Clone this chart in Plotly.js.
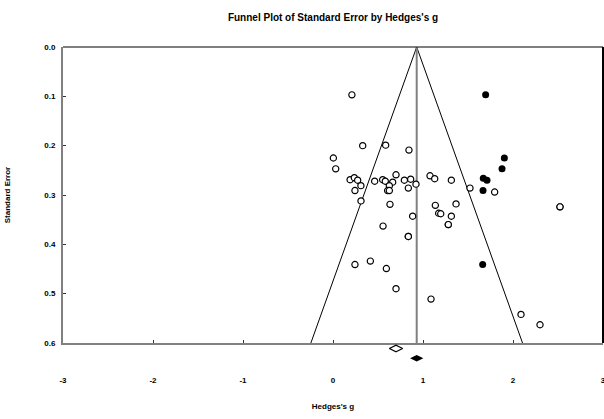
<!DOCTYPE html>
<html><head><meta charset="utf-8">
<script src="https://cdn.plot.ly/plotly-3.0.1.min.js"></script>
<style>html,body{margin:0;padding:0;background:#fff;overflow:hidden}</style>
</head><body><div id="chart" style="width:604px;height:419px"></div>
<script>
// Observed studies: Hedges's g and standard error
const observedG = [0.21, 0.33, 0.585, 0.004, 0.03, 0.19, 0.237, 0.274, 0.31, 0.244,
  0.463, 0.552, 0.581, 0.70, 0.663, 0.626, 0.607, 0.626, 0.311, 0.633,
  0.556, 0.844, 0.793, 0.863, 0.922, 0.837, 1.078, 1.13, 1.315, 1.522,
  1.796, 2.522, 2.522, 1.137, 1.367, 1.174, 1.197, 0.885, 1.315, 1.281,
  1.281, 0.837, 0.837, 0.244, 0.415, 0.593, 0.70, 1.089, 2.089, 2.30];
const observedSE = [0.097, 0.200, 0.199, 0.225, 0.247, 0.269, 0.265, 0.270, 0.281, 0.291,
  0.272, 0.269, 0.272, 0.259, 0.274, 0.281, 0.291, 0.291, 0.312, 0.319,
  0.363, 0.209, 0.270, 0.268, 0.278, 0.286, 0.261, 0.267, 0.270, 0.286,
  0.294, 0.324, 0.324, 0.321, 0.318, 0.337, 0.338, 0.343, 0.343, 0.360,
  0.360, 0.384, 0.384, 0.441, 0.434, 0.449, 0.490, 0.511, 0.542, 0.563];
// Imputed studies (trim and fill)
const imputedG = [1.696, 1.904, 1.878, 1.670, 1.711, 1.667, 1.663];
const imputedSE = [0.097, 0.225, 0.247, 0.266, 0.270, 0.291, 0.441];
// Funnel (95% limits) and combined effect line
const funnelG = [-0.246, 0.93, 2.106];
const funnelSE = [0.6, 0.0, 0.6];
const meanLineG = [0.93, 0.93];
const meanLineSE = [0.0, 0.6];
// Summary diamonds (observed and adjusted combined effect)
const observedSummaryG = [0.70];
const observedSummarySE = [0.611];
const adjustedSummaryG = [0.93];
const adjustedSummarySE = [0.631];
// Ticks
const xTicks = [-3, -2, -1, 0, 1, 2, 3];
const yTicks = [0.0, 0.1, 0.2, 0.3, 0.4, 0.5, 0.6];

const FONT = 'Liberation Sans Narrow, Liberation Sans, Arial, sans-serif';

// Geometry: main plot from y=47 to y=343 px; a strip below holds the diamonds
const H = 419, TOP = 47, AXIS = 343, BOTTOM = 365;
const splitFrac = (BOTTOM - AXIS) / (BOTTOM - TOP);
const pxPerSE = (AXIS - TOP) / 0.6;
const stripMax = 0.6 + (BOTTOM - AXIS) / pxPerSE;

const traces = [
  {x: funnelG, y: funnelSE, type: 'scatter', mode: 'lines',
   line: {color: '#000', width: 1}, hoverinfo: 'skip'},
  {x: meanLineG, y: meanLineSE, type: 'scatter', mode: 'lines',
   line: {color: '#808080', width: 2}, hoverinfo: 'skip'},
  {x: observedG, y: observedSE, type: 'scatter', mode: 'markers',
   marker: {symbol: 'circle', size: 6.2, color: '#fff', line: {color: '#000', width: 1.2}}},
  {x: imputedG, y: imputedSE, type: 'scatter', mode: 'markers',
   marker: {symbol: 'circle', size: 7, color: '#000', line: {color: '#000', width: 0}}},
  {x: observedSummaryG, y: observedSummarySE, type: 'scatter', mode: 'markers', yaxis: 'y2', cliponaxis: false,
   marker: {symbol: 'diamond-wide', size: 9.5, color: '#fff', line: {color: '#000', width: 1.2}}},
  {x: adjustedSummaryG, y: adjustedSummarySE, type: 'scatter', mode: 'markers', yaxis: 'y2', cliponaxis: false,
   marker: {symbol: 'diamond-wide', size: 9.5, color: '#000', line: {color: '#000', width: 0}}}
];

const layout = {
  width: 604, height: H,
  margin: {l: 63, r: 1, t: TOP, b: H - BOTTOM},
  paper_bgcolor: '#fff', plot_bgcolor: 'rgba(0,0,0,0)',
  showlegend: false,
  font: {family: FONT, color: '#000'},
  title: {text: "Funnel Plot of Standard Error by Hedges's g",
    font: {family: FONT, size: 10, weight: 'bold', color: '#000'},
    x: 0.5, xref: 'paper', y: 1 - 17/H, yref: 'container', yanchor: 'middle'},
  xaxis: {range: [-3, 3], tickvals: xTicks, ticktext: xTicks.map(String), anchor: 'y',
    showgrid: false, zeroline: false, showline: true, linecolor: '#808080', linewidth: 2,
    ticks: 'inside', ticklen: 3, tickcolor: '#333', tickwidth: 1,
    ticklabelstandoff: 28, ticklabeloverflow: 'allow',
    tickfont: {family: FONT, size: 8, weight: 'bold', color: '#000'},
    title: {text: "Hedges's g", standoff: 20,
      font: {family: FONT, size: 8, weight: 'bold', color: '#000'}}},
  yaxis: {domain: [splitFrac, 1], range: [0.6, 0], tickvals: yTicks, tickformat: '.1f',
    showgrid: false, zeroline: false, showline: true, linecolor: '#808080', linewidth: 2,
    ticks: 'inside', ticklen: 3, tickcolor: '#333', tickwidth: 1,
    ticklabelstandoff: 4,
    tickfont: {family: FONT, size: 8, weight: 'bold', color: '#000'},
    title: {text: 'Standard Error', standoff: 32,
      font: {family: FONT, size: 8, weight: 'bold', color: '#000'}}},
  yaxis2: {domain: [0, splitFrac], range: [stripMax, 0.6], anchor: 'x', visible: false,
    showgrid: false, zeroline: false},
  shapes: [
    {type: 'line', xref: 'paper', yref: 'y domain', x0: 0, x1: 1, y0: 1, y1: 1,
     line: {color: '#000', width: 1.2}},
    {type: 'line', xref: 'paper', yref: 'y domain', x0: 1, x1: 1, y0: 0, y1: 1,
     line: {color: '#000', width: 2}}
  ]
};

Plotly.newPlot('chart', traces, layout, {staticPlot: true, displayModeBar: false});
</script>
</body></html>
